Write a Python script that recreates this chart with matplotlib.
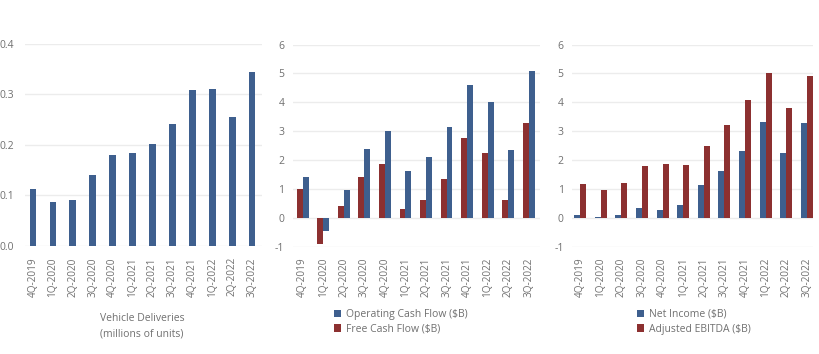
import numpy as np
import matplotlib
matplotlib.use('Agg')
import matplotlib.pyplot as plt

quarters = ['4Q-2019', '1Q-2020', '2Q-2020', '3Q-2020', '4Q-2020', '1Q-2021',
            '2Q-2021', '3Q-2021', '4Q-2021', '1Q-2022', '2Q-2022', '3Q-2022']

# millions of units
deliveries = [0.112, 0.088, 0.091, 0.140, 0.181, 0.185, 0.201, 0.241, 0.309, 0.310, 0.255, 0.344]

# $B
operating_cf = [1.43, -0.44, 0.96, 2.40, 3.02, 1.64, 2.12, 3.15, 4.59, 4.00, 2.35, 5.10]
free_cf = [1.01, -0.90, 0.42, 1.40, 1.87, 0.29, 0.62, 1.33, 2.78, 2.23, 0.62, 3.30]
net_income = [0.11, 0.02, 0.10, 0.33, 0.27, 0.44, 1.14, 1.62, 2.32, 3.32, 2.26, 3.29]
adj_ebitda = [1.18, 0.95, 1.21, 1.81, 1.85, 1.84, 2.50, 3.21, 4.09, 5.02, 3.79, 4.92]

BLUE = '#3e5f8e'
RED = '#8c3030'
GRID = '#ececec'
TXT = '#707070'

plt.rcParams['font.family'] = ['Open Sans', 'DejaVu Sans']

fig = plt.figure(figsize=(8.2, 3.54), dpi=100)
fig.patch.set_facecolor('white')

ax1 = fig.add_axes([0.0305, 0.305, 0.289, 0.571])
ax2 = fig.add_axes([0.357, 0.303, 0.301, 0.571])
ax3 = fig.add_axes([0.6976, 0.303, 0.294, 0.571])

x = np.arange(len(quarters))


def style(ax, ticks, fmt, ypad=6):
    for s in ax.spines.values():
        s.set_visible(False)
    ax.set_yticks(ticks)
    ax.set_yticklabels([fmt.format(t) for t in ticks])
    ax.grid(axis='y', color=GRID, linewidth=1)
    ax.set_axisbelow(True)
    ax.tick_params(length=0, labelsize=7.5, labelcolor=TXT)
    ax.tick_params(axis='y', pad=ypad)
    ax.tick_params(axis='x', pad=8)
    ax.set_xticks(x)
    ax.set_xticklabels(quarters, rotation=90, fontsize=7.2)


# panel 1
ax1.bar(x, deliveries, width=0.34, color=BLUE)
ax1.set_xlim(-0.4, 11.5)
ax1.set_ylim(0, 0.4)
style(ax1, [0.0, 0.1, 0.2, 0.3, 0.4], '{:.1f}', ypad=8)

# panel 2
w = 0.29
ax2.bar(x + w / 2, operating_cf, width=w, color=BLUE, label='Operating Cash Flow ($B)')
ax2.bar(x - w / 2, free_cf, width=w, color=RED, label='Free Cash Flow ($B)')
ax2.set_xlim(-0.49, 11.53)
ax2.set_ylim(-1, 6)
style(ax2, list(range(-1, 7)), '{:d}')

# panel 3
ax3.bar(x - w / 2, net_income, width=w, color=BLUE, label='Net Income ($B)')
ax3.bar(x + w / 2, adj_ebitda, width=w, color=RED, label='Adjusted EBITDA ($B)')
ax3.set_xlim(-0.39, 11.3)
ax3.set_ylim(-1, 6)
style(ax3, list(range(-1, 7)), '{:d}')

fig.text(142 / 820, 1 - 326 / 354, 'Vehicle Deliveries\n(millions of units)',
         ha='center', va='center', fontsize=7.5, color=TXT, linespacing=1.6)

for ax, xpos in [(ax2, 334 / 820), (ax3, 637 / 820)]:
    ax.legend(loc='upper left', bbox_to_anchor=(xpos, 1 - 309 / 354),
              bbox_transform=fig.transFigure, frameon=False, fontsize=7.5,
              labelcolor=TXT, handlelength=0.7, handleheight=0.7,
              handletextpad=0.5, labelspacing=0.35, borderpad=0, borderaxespad=0)

fig.savefig('out.png', dpi=100, facecolor='white')
